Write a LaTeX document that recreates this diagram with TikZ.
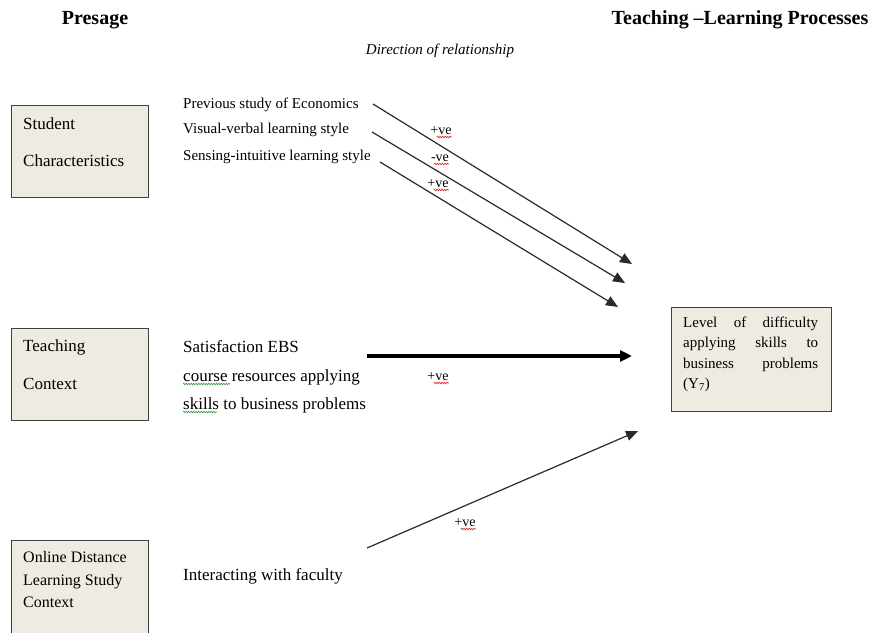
\documentclass[tikz,border=0pt]{standalone}
\usepackage{fontspec}
\setmainfont{Liberation Serif}
\usetikzlibrary{arrows.meta,decorations.pathmorphing,calc}
\definecolor{boxfill}{HTML}{EEEBE2}
\definecolor{boxline}{HTML}{404040}
\definecolor{lineclr}{HTML}{2A2A2A}
\definecolor{squigred}{HTML}{E02020}
\definecolor{squiggreen}{HTML}{3A9A3A}
\begin{document}
\begin{tikzpicture}[x=1pt,y=-1pt,
  box/.style={draw=boxline,line width=1.4pt,fill=boxfill,anchor=north west,inner sep=0pt},
  txt/.style={inner sep=0pt,anchor=base west,font=\fontsize{15}{18}\selectfont},
  bigtxt/.style={txt,font=\fontsize{17}{20}\selectfont},
  sign/.style={inner sep=0pt,anchor=base,font=\fontsize{14}{16}\selectfont},
  head/.style={inner sep=0pt,anchor=base,font=\fontsize{20}{23}\selectfont\bfseries},
  link/.style={draw=lineclr,line width=1.2pt,-{Triangle[length=12pt,width=10pt]}},
  strong/.style={draw=black,line width=3.2pt,-{Triangle[length=12pt,width=11pt]}},
  squig/.style={decorate,decoration={snake,amplitude=0.8pt,segment length=2.5pt},line width=0.6pt}
]
\clip (0,0) rectangle (872,632);
\fill[white] (0,0) rectangle (872,632);

% headings
\node[head] (presage) at (95,24) {Presage};
\node[head] (tlp) at (740,24) {Teaching --Learning Processes};
\node[sign,font=\fontsize{15}{17}\selectfont\itshape] (dir) at (440,54) {Direction of relationship};

% presage boxes
\node[box,minimum width=137pt,minimum height=92pt] (student) at (11,105) {};
\node[bigtxt] (st1) at (23,129) {Student};
\node[bigtxt] (st2) at (23,166) {Characteristics};

\node[box,minimum width=137pt,minimum height=92pt] (teach) at (11,328) {};
\node[bigtxt] (tc1) at (23,351) {Teaching};
\node[bigtxt] (tc2) at (23,389) {Context};

\node[box,minimum width=137pt,minimum height=100pt] (online) at (11,540) {};
\node[txt,font=\fontsize{16}{19}\selectfont] (ol1) at (23,562) {Online Distance};
\node[txt,font=\fontsize{16}{19}\selectfont] (ol2) at (23,585) {Learning Study};
\node[txt,font=\fontsize{16}{19}\selectfont] (ol3) at (23,607) {Context};

% outcome box
\node[box,minimum width=160pt,minimum height=104pt] (level) at (671,307) {};
\node[txt] (lv1) at (683,327) {\makebox[135pt][s]{Level of difficulty}};
\node[txt] (lv2) at (683,347) {\makebox[135pt][s]{applying skills to}};
\node[txt] (lv3) at (683,368) {\makebox[135pt][s]{business problems}};
\node[txt] (lv4) at (683,388) {(Y\textsubscript{7})};

% student characteristic items
\node[txt] (it1) at (183,108) {Previous study of Economics};
\node[txt] (it2) at (183,133) {Visual-verbal learning style};
\node[txt] (it3) at (183,160) {Sensing-intuitive learning style};

% teaching context item
\node[bigtxt] (it4) at (183,352) {Satisfaction EBS};
\node[bigtxt] (it5) at (183,381) {course resources applying};
\node[bigtxt] (it6) at (183,409) {skills to business problems};

% online item
\node[bigtxt] (it7) at (183,580) {Interacting with faculty};

% connector ends
\coordinate (a1s) at (373,104); \coordinate (a1e) at (632,264);
\coordinate (a2s) at (372,132); \coordinate (a2e) at (625,283);
\coordinate (a3s) at (380,162); \coordinate (a3e) at (618,307);
\coordinate (a4s) at (367,356); \coordinate (a4e) at (632,356);
\coordinate (a5s) at (367,548); \coordinate (a5e) at (638,431);

\draw[link] (a1s) -- (a1e);
\draw[link] (a2s) -- (a2e);
\draw[link] (a3s) -- (a3e);
\draw[strong] (a4s) -- (a4e);
\draw[link] (a5s) -- (a5e);

% direction signs
\node[sign] (s1) at (441,134) {+ve};
\node[sign] (s2) at (440,161) {-ve};
\node[sign] (s3) at (438,187) {+ve};
\node[sign] (s4) at (438,380) {+ve};
\node[sign] (s5) at (465,526) {+ve};

% proofing underlines
\foreach \s in {s1,s2,s3,s4,s5}
  \draw[squig,squigred] ($(\s.base east)+(-15,3)$) -- ($(\s.base east)+(0,3)$);
\draw[squig,squiggreen] ($(it5.base west)+(0,3)$) -- ($(it5.base west)+(47,3)$);
\draw[squig,squiggreen] ($(it6.base west)+(0,3)$) -- ($(it6.base west)+(34,3)$);
\end{tikzpicture}
\end{document}
